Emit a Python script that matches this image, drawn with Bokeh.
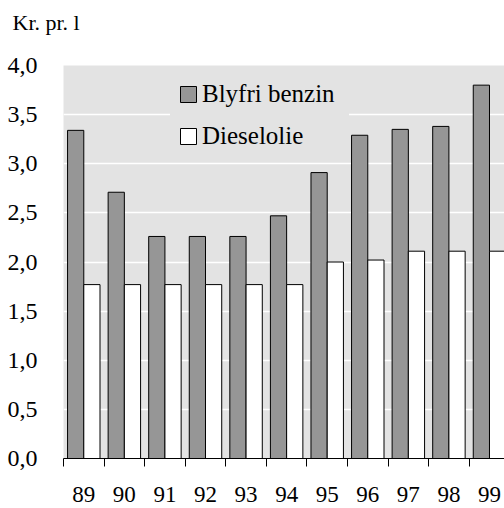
from bokeh.plotting import figure
from bokeh.models import Range1d, FixedTicker, Legend, LegendItem, ColumnDataSource, Title
from bokeh.transform import dodge
from bokeh.embed import file_html
from bokeh.resources import INLINE

years = ["89", "90", "91", "92", "93", "94", "95", "96", "97", "98", "99"]
benzin = [3.34, 2.71, 2.26, 2.26, 2.26, 2.47, 2.91, 3.29, 3.35, 3.38, 3.80]
diesel = [1.77, 1.77, 1.77, 1.77, 1.77, 1.77, 2.00, 2.02, 2.11, 2.11, 2.11]
y_ticks = [0, 0.5, 1.0, 1.5, 2.0, 2.5, 3.0, 3.5, 4.0]
y_labels = ["0,0", "0,5", "1,0", "1,5", "2,0", "2,5", "3,0", "3,5", "4,0"]

FONT = "Liberation Serif"
centers = [i + 0.5 for i in range(len(years))]
src = ColumnDataSource(dict(x=centers, benzin=benzin, diesel=diesel))

p = figure(width=504, height=508, output_backend="svg", toolbar_location=None,
           x_range=Range1d(0, 10.87), y_range=Range1d(0, 4.0),
           min_border_left=63, min_border_top=65, min_border_bottom=50, min_border_right=0)
p.background_fill_color = "#e3e3e3"
p.border_fill_color = "white"
p.outline_line_color = None

# real title (outermost); a blank spacer title added later sits nearest the frame
p.title.text = "Kr. pr. l"
p.title.text_font = FONT
p.title.text_font_size = "22px"
p.title.text_font_style = "normal"
p.title.text_color = "black"
p.title.align = "left"
p.title.vertical_align = "top"
p.title.offset = -51
p.title.standoff = 0
p.add_layout(Title(text=" ", text_font_size="1px", standoff=26), "above")

r1 = p.vbar(x=dodge("x", -0.2), top="benzin", width=0.4, source=src,
            fill_color="#969696", line_color="black", line_width=1)
r2 = p.vbar(x=dodge("x", 0.2), top="diesel", width=0.4, source=src,
            fill_color="white", line_color="black", line_width=1)

# x axis
p.xaxis.ticker = FixedTicker(ticks=centers, minor_ticks=list(range(len(years))))
p.xaxis.major_label_overrides = {c: y for c, y in zip(centers, years)}
p.xaxis.major_tick_out = 0
p.xaxis.major_tick_in = 0
p.xaxis.minor_tick_out = 8
p.xaxis.minor_tick_in = 0
p.xaxis.minor_tick_line_color = "black"
p.xaxis.axis_line_color = "black"
p.xaxis.major_label_text_font = FONT
p.xaxis.major_label_text_font_size = "23px"
p.xaxis.major_label_text_color = "black"
p.xaxis.major_label_standoff = 20

# y axis
p.yaxis.ticker = FixedTicker(ticks=y_ticks)
p.yaxis.major_label_overrides = {t: l for t, l in zip(y_ticks, y_labels)}
p.yaxis.axis_line_color = None
p.yaxis.major_tick_line_color = None
p.yaxis.minor_tick_line_color = None
p.yaxis.major_label_text_font = FONT
p.yaxis.major_label_text_font_size = "24px"
p.yaxis.major_label_text_color = "black"
p.yaxis.major_label_standoff = 20

p.xgrid.grid_line_color = None
p.ygrid.grid_line_color = "white"
p.ygrid.grid_line_width = 1.5

legend = Legend(items=[LegendItem(label="Blyfri benzin", renderers=[r1]),
                       LegendItem(label="Dieselolie", renderers=[r2])],
                location=(107, 300), orientation="vertical")
legend.background_fill_color = "#e3e3e3"
legend.background_fill_alpha = 1
legend.border_line_color = "#e3e3e3"
legend.border_line_width = 1
legend.label_text_font = FONT
legend.label_text_font_size = "25px"
legend.label_text_color = "black"
legend.glyph_width = 20
legend.glyph_height = 20
legend.label_height = 24
legend.label_width = 139
legend.label_standoff = 4
legend.spacing = 14
legend.padding = 7
legend.margin = 0
p.add_layout(legend, "center")

open("out.html", "w").write(file_html(p, INLINE))
